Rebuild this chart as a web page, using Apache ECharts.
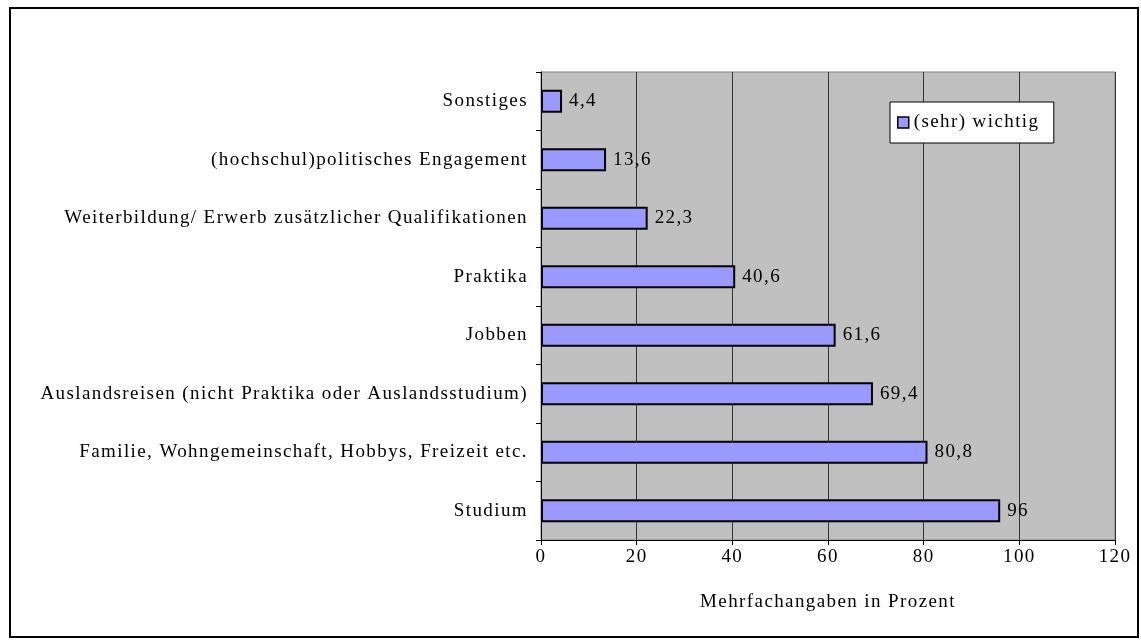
<!DOCTYPE html>
<html>
<head>
<meta charset="utf-8">
<script src="https://cdn.jsdelivr.net/npm/echarts@6/dist/echarts.min.js"></script>
<style>
  html, body { margin: 0; padding: 0; background: #fff; }
  #chart { width: 1141px; height: 641px; }
</style>
</head>
<body>
<div id="chart"></div>
<script>
const categories = [
  'Sonstiges',
  '(hochschul)politisches Engagement',
  'Weiterbildung/ Erwerb zusätzlicher Qualifikationen',
  'Praktika',
  'Jobben',
  'Auslandsreisen (nicht Praktika oder Auslandsstudium)',
  'Familie, Wohngemeinschaft, Hobbys, Freizeit etc.',
  'Studium'
];
const values = [4.4, 13.6, 22.3, 40.6, 61.6, 69.4, 80.8, 96];
const seriesName = '(sehr) wichtig';
const axisName = 'Mehrfachangaben in Prozent';

const font = 'Liberation Serif, Times New Roman, serif';
const fs = 19;

// the original Times text is spaced out wider than a browser draws it
const origFillText = CanvasRenderingContext2D.prototype.fillText;
CanvasRenderingContext2D.prototype.fillText = function () {
  if ('letterSpacing' in this) this.letterSpacing = '1.4px';
  return origFillText.apply(this, arguments);
};

const chart = echarts.init(document.getElementById('chart'), null, { renderer: 'canvas' });

const option = {
  backgroundColor: '#fff',
  animation: false,
  textStyle: { fontFamily: font },
  graphic: [{
    type: 'rect',
    shape: { x: 10, y: 8, width: 1128, height: 629 },
    style: { fill: 'none', stroke: '#000', lineWidth: 2 }
  }],
  grid: {
    left: 541,
    right: 26,
    top: 72,
    bottom: 101,
    show: true,
    backgroundColor: '#C0C0C0',
    borderColor: '#808080',
    borderWidth: 1
  },
  legend: {
    left: 890,
    top: 102,
    data: [seriesName],
    icon: 'rect',
    itemWidth: 11,
    itemHeight: 11,
    itemGap: 8,
    itemStyle: { borderColor: '#000', borderWidth: 1.5 },
    padding: [11, 34, 11, 7],
    backgroundColor: '#fff',
    borderColor: '#000',
    borderWidth: 1,
    textStyle: { fontFamily: font, fontSize: fs, color: '#000' }
  },
  xAxis: {
    type: 'value',
    min: 0,
    max: 120,
    interval: 20,
    name: axisName,
    nameLocation: 'middle',
    nameGap: 53,
    nameTextStyle: { fontFamily: font, fontSize: fs, color: '#000' },
    axisLine: { show: true, lineStyle: { color: '#000', width: 1 } },
    axisTick: { show: true, length: 5, lineStyle: { color: '#000' } },
    axisLabel: { fontFamily: font, fontSize: fs, color: '#000', margin: 8 },
    splitLine: { show: true, lineStyle: { color: '#333', width: 1 } }
  },
  yAxis: {
    type: 'category',
    data: categories,
    inverse: true,
    axisLine: { show: true, lineStyle: { color: '#000', width: 1 } },
    axisTick: { show: true, length: 5, alignWithLabel: false, lineStyle: { color: '#000' } },
    axisLabel: { fontFamily: font, fontSize: fs, color: '#000', margin: 13 },
    splitLine: { show: false }
  },
  series: [{
    name: seriesName,
    type: 'bar',
    data: values,
    barWidth: '39%',
    itemStyle: { color: '#9999FF', borderColor: '#000', borderWidth: 2 },
    label: {
      show: true,
      position: 'right',
      distance: 7,
      fontFamily: font,
      fontSize: fs,
      color: '#000',
      formatter: p => String(p.value).replace('.', ',')
    }
  }]
};

chart.setOption(option);
</script>
</body>
</html>
